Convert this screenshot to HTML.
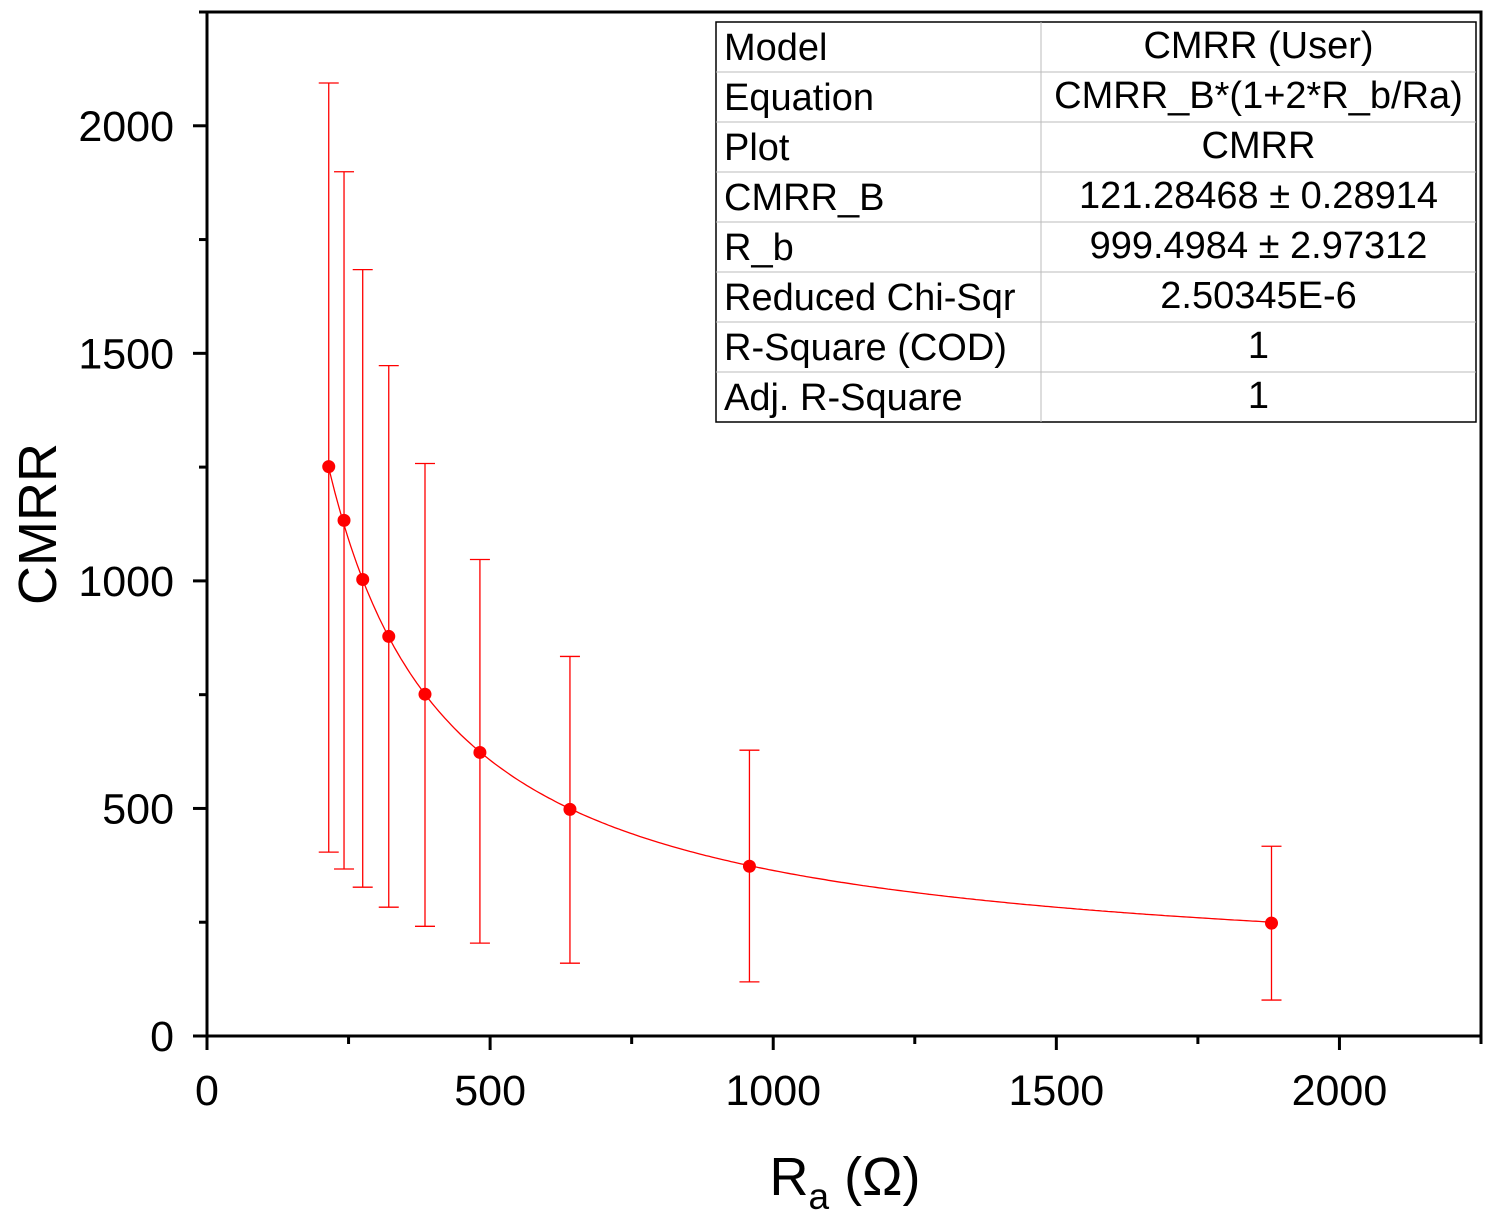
<!DOCTYPE html>
<html><head><meta charset="utf-8"><style>
body{margin:0;background:#fff;}
svg{display:block;font-family:"Liberation Sans",Arial,sans-serif;}
</style></head><body>
<svg id="chart" width="1500" height="1228" viewBox="0 0 1500 1228" xmlns="http://www.w3.org/2000/svg">
<g id="axes"></g>
<g id="marks"></g>
<g id="table"></g>
<text x="56" y="524" font-size="54" text-anchor="middle" transform="rotate(-90 56 524)">CMRR</text>
<text x="845" y="1195" font-size="54" text-anchor="middle">R<tspan font-size="37" dy="14">a</tspan><tspan dy="-14"> (Ω)</tspan></text>
</svg>
<script>
const xVals=[215,242,275,321,385,482,641,958,1880];
const yVals=[1251,1133,1003,878,751,623,498,373,248];
const errTop=[2094,1899,1684,1473,1258,1047,834,628,417];
const errBot=[404,367,327,283,241,204,160,119,79];
const xTicks=[0,500,1000,1500,2000];
const yTicks=[0,500,1000,1500,2000];
const fitB=121.28468, fitRb=999.4984;
const tableRows=[["Model","CMRR (User)"],["Equation","CMRR_B*(1+2*R_b/Ra)"],["Plot","CMRR"],["CMRR_B","121.28468 ± 0.28914"],["R_b","999.4984 ± 2.97312"],["Reduced Chi-Sqr","2.50345E-6"],["R-Square (COD)","1"],["Adj. R-Square","1"]];

const L=207,R=1481,T=12,B=1036,XMAX=2250,YMAX=2250;
const sx=v=>L+v/XMAX*(R-L), sy=v=>B-v/YMAX*(B-T);
const NS="http://www.w3.org/2000/svg";
function mk(tag,attrs,parent){const e=document.createElementNS(NS,tag);for(const k in attrs)e.setAttribute(k,attrs[k]);parent.appendChild(e);return e;}
const ax=document.getElementById('axes'),mg=document.getElementById('marks'),tb=document.getElementById('table');
let f=mk('rect',{x:L,y:T,width:R-L,height:B-T,fill:'none',stroke:'#000','stroke-width':3},ax);


for(let v=0;v<=XMAX;v+=250){const major=v%500===0;const t=mk('line',{x1:sx(v),x2:sx(v),y1:B,y2:B+(major?14:8),stroke:'#000','stroke-width':3},ax);

}
for(let v=0;v<=YMAX;v+=250){const major=v%500===0;const t=mk('line',{x1:L-(major?14:8),x2:L,y1:sy(v),y2:sy(v),stroke:'#000','stroke-width':3},ax);

}
xTicks.forEach(v=>{const t=mk('text',{x:sx(v),y:1105,'font-size':43,'text-anchor':'middle'},ax);t.textContent=v;

});
yTicks.forEach(v=>{const t=mk('text',{x:174,y:sy(v)+15,'font-size':43,'text-anchor':'end'},ax);t.textContent=v;

});
let d='';const x0=xVals[0],x1=xVals[xVals.length-1];
for(let i=0;i<=300;i++){const x=x0+(x1-x0)*i/300;const y=fitB*(1+2*fitRb/x);d+=(i?'L':'M')+sx(x).toFixed(1)+','+sy(y).toFixed(1);}
const c=mk('path',{d:d,fill:'none',stroke:'#f00','stroke-width':1.3},mg);


xVals.forEach((x,i)=>{
 const X=sx(x);
 const e=mk('path',{d:`M${X},${sy(errTop[i])}V${sy(errBot[i])}M${X-10},${sy(errTop[i])}H${X+10}M${X-10},${sy(errBot[i])}H${X+10}`,stroke:'#f00','stroke-width':1.3,fill:'none'},mg);
 
 
 const p=mk('circle',{cx:X,cy:sy(yVals[i]),r:6.5,fill:'#f00'},mg);
 
 
});
const TX=716,TY=22,TW=760,RH=50,CX=1041;
mk('rect',{x:TX,y:TY,width:TW,height:RH*tableRows.length,fill:'#fff',stroke:'#000','stroke-width':1.5},tb);
mk('line',{x1:CX,x2:CX,y1:TY,y2:TY+RH*tableRows.length,stroke:'#bbb','stroke-width':1},tb);
tableRows.forEach((r,i)=>{
 if(i>0)mk('line',{x1:TX,x2:TX+TW,y1:TY+RH*i,y2:TY+RH*i,stroke:'#bbb','stroke-width':1},tb);
 const a=mk('text',{x:TX+8,y:TY+RH*i+38,'font-size':38},tb);a.textContent=r[0];
 
 
 const b=mk('text',{x:(CX+TX+TW)/2,y:TY+RH*i+36,'font-size':38,'text-anchor':'middle'},tb);b.textContent=r[1];
 
 
});
</script>
</body></html>
